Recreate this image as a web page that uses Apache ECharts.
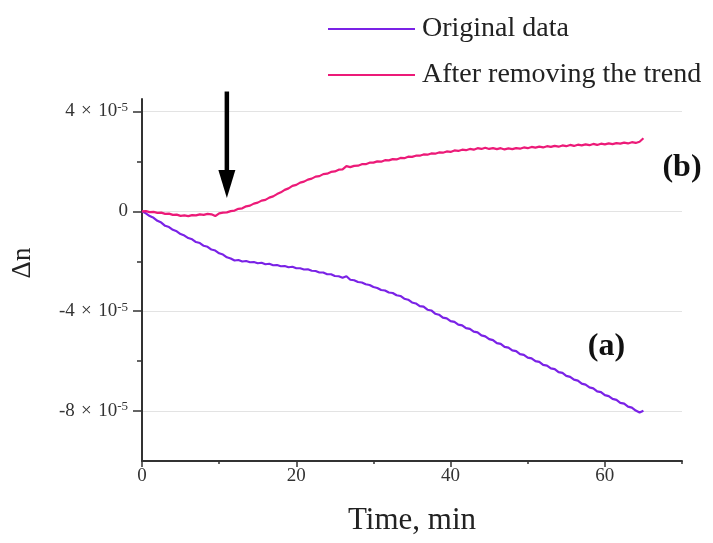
<!DOCTYPE html>
<html>
<head>
<meta charset="utf-8">
<script src="https://cdn.jsdelivr.net/npm/echarts@6/dist/echarts.min.js"></script>
<style>
  html, body { margin: 0; padding: 0; background: #ffffff; }
  #chart { width: 713px; height: 543px; }
</style>
</head>
<body>
<div id="chart"></div>
<script>
// Sampling interval of the recordings, minutes
const SAMPLE_STEP = 0.5;

// Δn, in units of 1e-5, sampled every SAMPLE_STEP minutes from t = 0
const originalData = [
  0.00, -0.08, -0.19, -0.26, -0.38, -0.45, -0.58, -0.63, -0.74, -0.80,
  -0.91, -0.97, -1.07, -1.12, -1.23, -1.27, -1.38, -1.42, -1.53, -1.57,
  -1.68, -1.73, -1.84, -1.89, -1.97, -1.95, -2.01, -1.99, -2.04, -2.03,
  -2.08, -2.06, -2.12, -2.10, -2.16, -2.15, -2.20, -2.19, -2.24, -2.22,
  -2.28, -2.28, -2.33, -2.32, -2.38, -2.39, -2.45, -2.45, -2.52, -2.52,
  -2.59, -2.60, -2.66, -2.60, -2.74, -2.76, -2.83, -2.85, -2.92, -2.95,
  -3.03, -3.07, -3.15, -3.17, -3.25, -3.27, -3.36, -3.39, -3.50, -3.54,
  -3.65, -3.69, -3.80, -3.82, -3.94, -3.97, -4.10, -4.14, -4.26, -4.29,
  -4.40, -4.43, -4.54, -4.57, -4.68, -4.71, -4.82, -4.85, -4.97, -5.01,
  -5.12, -5.16, -5.28, -5.31, -5.43, -5.46, -5.57, -5.60, -5.72, -5.75,
  -5.86, -5.89, -6.00, -6.03, -6.15, -6.18, -6.29, -6.32, -6.44, -6.47,
  -6.59, -6.63, -6.74, -6.78, -6.90, -6.94, -7.05, -7.09, -7.21, -7.24,
  -7.36, -7.40, -7.51, -7.55, -7.67, -7.70, -7.82, -7.86, -7.98, -8.06,
  -7.99
];

const detrendedData = [
  0.00, 0.01, -0.03, -0.02, -0.06, -0.05, -0.10, -0.09, -0.14, -0.13,
  -0.18, -0.16, -0.19, -0.15, -0.16, -0.12, -0.14, -0.10, -0.12, -0.19,
  -0.08, -0.05, -0.04, 0.01, 0.03, 0.10, 0.12, 0.20, 0.23, 0.31,
  0.35, 0.43, 0.46, 0.55, 0.60, 0.69, 0.76, 0.86, 0.92, 1.02,
  1.06, 1.15, 1.19, 1.27, 1.31, 1.39, 1.41, 1.49, 1.51, 1.58,
  1.60, 1.67, 1.68, 1.81, 1.77, 1.82, 1.83, 1.89, 1.89, 1.95,
  1.95, 2.00, 1.99, 2.05, 2.04, 2.09, 2.08, 2.14, 2.13, 2.19,
  2.18, 2.23, 2.23, 2.28, 2.27, 2.32, 2.31, 2.36, 2.35, 2.40,
  2.38, 2.44, 2.42, 2.47, 2.45, 2.50, 2.47, 2.53, 2.50, 2.55,
  2.50, 2.53, 2.49, 2.53, 2.48, 2.52, 2.49, 2.53, 2.51, 2.56,
  2.53, 2.58, 2.55, 2.59, 2.56, 2.61, 2.58, 2.62, 2.59, 2.64,
  2.61, 2.66, 2.62, 2.67, 2.64, 2.68, 2.65, 2.70, 2.66, 2.71,
  2.68, 2.72, 2.69, 2.73, 2.71, 2.75, 2.72, 2.77, 2.74, 2.79,
  2.93
];

const seriesNames = ['Original data', 'After removing the trend'];

// Axis ticks (y in units of 1e-5)
const xMajorTicks = [0, 20, 40, 60];
const xMinorTicks = [10, 30, 50, 70];
const yMajorTicks = [-8, -4, 0, 4];
const yMinorTicks = [-6, -2, 2];

// Arrow marking the moment of the change, and the curve tags
const arrowTime = 11;
const arrowFrom = 4.8;
const arrowTo = 0.53;
const curveTags = [
  { text: '(a)', at: [60.2, -5.42] },
  { text: '(b)', at: [70.0, 1.74] }
];

(function () {
  const SERIF = '"Liberation Serif", "DejaVu Serif", serif';
  const PURPLE = '#7a22e6';
  const PINK = '#ec1a78';
  const AXIS = '#333333';
  const TIMES = '\u2004×\u2004';

  const toPairs = arr => arr.map((v, i) => [i * SAMPLE_STEP, v]);

  const chart = echarts.init(document.getElementById('chart'), null, { renderer: 'canvas' });

  function yLabel(v) {
    if (v === 0) return '0';
    return v + TIMES + '10{sup|-5}';
  }

  const option = {
    backgroundColor: '#ffffff',
    animation: false,
    grid: { left: 142, right: 31, top: 99, bottom: 82, containLabel: false },
    legend: {
      orient: 'vertical',
      left: 323,
      top: 10,
      itemWidth: 87,
      itemHeight: 2,
      itemGap: 18,
      icon: 'rect',
      data: seriesNames,
      textStyle: {
        fontFamily: SERIF,
        fontSize: 28,
        color: '#222',
        lineHeight: 26,
        padding: [0, 0, 0, 2]
      }
    },
    xAxis: [
      {
        type: 'value',
        min: 0,
        max: 70,
        name: 'Time, min',
        nameLocation: 'middle',
        nameGap: 44,
        nameTextStyle: { fontFamily: SERIF, fontSize: 31, color: '#222' },
        axisLine: { show: true, onZero: false, lineStyle: { color: AXIS, width: 2 } },
        axisTick: { show: true, inside: false, length: 6, lineStyle: { color: AXIS, width: 1.5 }, customValues: xMajorTicks },
        axisLabel: { fontFamily: SERIF, fontSize: 19, color: '#333', margin: 6, customValues: xMajorTicks },
        splitLine: { show: false }
      },
      {
        type: 'value',
        min: 0,
        max: 70,
        position: 'bottom',
        axisLine: { show: false, onZero: false },
        axisTick: { show: true, length: 3, lineStyle: { color: AXIS, width: 1.5 }, customValues: xMinorTicks },
        axisLabel: { show: false },
        splitLine: { show: false }
      }
    ],
    yAxis: [
      {
        type: 'value',
        min: -10,
        max: 4.5,
        name: 'Δn',
        nameLocation: 'middle',
        nameGap: 106,
        nameRotate: 90,
        nameTextStyle: { fontFamily: SERIF, fontSize: 27, color: '#222', padding: [0, 0, 0, 34] },
        axisLine: { show: true, onZero: false, lineStyle: { color: AXIS, width: 2 } },
        axisTick: { show: true, inside: false, length: 9, lineStyle: { color: AXIS, width: 1.5 }, customValues: yMajorTicks },
        axisLabel: {
          fontFamily: SERIF, fontSize: 19, color: '#333', margin: 14,
          customValues: yMajorTicks,
          formatter: yLabel,
          rich: {
            sup: { fontFamily: SERIF, fontSize: 13, color: '#333', verticalAlign: 'top', padding: [0, 0, 8, 0] }
          }
        },
        splitLine: { show: true, lineStyle: { color: '#e3e3e3', width: 1 } }
      },
      {
        type: 'value',
        min: -10,
        max: 4.5,
        position: 'left',
        axisLine: { show: false, onZero: false },
        axisTick: { show: true, length: 5, lineStyle: { color: AXIS, width: 1.5 }, customValues: yMinorTicks },
        axisLabel: { show: false },
        splitLine: { show: false }
      }
    ],
    series: [
      {
        name: seriesNames[0],
        type: 'line',
        data: toPairs(originalData),
        showSymbol: false,
        symbol: 'none',
        color: PURPLE,
        lineStyle: { color: PURPLE, width: 2.2 },
        z: 3
      },
      {
        name: seriesNames[1],
        type: 'line',
        data: toPairs(detrendedData),
        showSymbol: false,
        symbol: 'none',
        color: PINK,
        lineStyle: { color: PINK, width: 2.2 },
        z: 4
      }
    ]
  };

  chart.setOption(option);

  // Annotations placed through the grid's coordinate system
  const px = v => chart.convertToPixel({ gridIndex: 0 }, v);
  const arrowTop = px([arrowTime, arrowFrom]);
  const arrowTip = px([arrowTime, arrowTo]);
  const headLen = 28, headHalf = 8.5;
  const graphics = [
    {
      type: 'line',
      shape: { x1: arrowTop[0], y1: arrowTop[1], x2: arrowTip[0], y2: arrowTip[1] - headLen + 2 },
      style: { stroke: '#000', lineWidth: 4.5 },
      z: 10
    },
    {
      type: 'polygon',
      shape: { points: [[arrowTip[0] - headHalf, arrowTip[1] - headLen], [arrowTip[0] + headHalf, arrowTip[1] - headLen], [arrowTip[0], arrowTip[1]]] },
      style: { fill: '#000' },
      z: 10
    }
  ];
  curveTags.forEach(t => {
    const p = px(t.at);
    graphics.push({
      type: 'text',
      x: p[0], y: p[1],
      style: {
        text: t.text,
        fontFamily: SERIF,
        fontWeight: 'bold',
        fontSize: 32,
        fill: '#111',
        align: 'center',
        verticalAlign: 'middle'
      },
      z: 10
    });
  });
  chart.setOption({ graphic: graphics });
})();
</script>
</body>
</html>
